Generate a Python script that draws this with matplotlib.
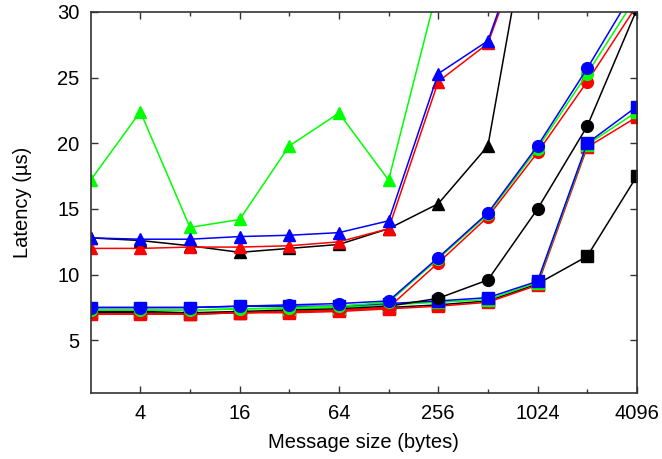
import numpy as np
import matplotlib
matplotlib.use("Agg")
import matplotlib.pyplot as plt
from matplotlib.ticker import FixedLocator, NullFormatter

plt.rcParams['font.family'] = ['Liberation Sans', 'DejaVu Sans']

# message sizes (bytes)
sizes = [2, 4, 8, 16, 32, 64, 128, 256, 512, 1024, 2048, 4096]
nan = np.nan

# squares
sq_black = [7.1, 7.1, 7.0, 7.1, 7.2, 7.3, 7.5, 7.7, 8.0, 9.3, 11.4, 17.5]
sq_red = [7.0, 7.0, 7.0, 7.1, 7.1, 7.2, 7.4, 7.6, 7.9, 9.2, 19.7, 22.0]
sq_green = [7.3, 7.3, 7.3, 7.4, 7.4, 7.5, 7.7, 7.9, 8.1, 9.4, 19.9, 22.4]
sq_blue = [7.5, 7.5, 7.5, 7.6, 7.6, 7.6, 7.8, 8.0, 8.25, 9.5, 20.0, 22.8]

# circles
ci_black = [7.2, 7.2, 7.1, 7.2, 7.3, 7.4, 7.6, 8.2, 9.6, 15.0, 21.3, 30.2]
ci_red = [7.0, 7.0, 7.0, 7.1, 7.2, 7.3, 7.5, 10.9, 14.4, 19.3, 24.7, 30.5]
ci_green = [7.3, 7.3, 7.3, 7.4, 7.5, 7.6, 7.9, 11.2, 14.6, 19.6, 25.3, 31.2]
ci_blue = [7.5, 7.5, 7.5, 7.6, 7.7, 7.8, 8.0, 11.3, 14.7, 19.8, 25.7, 32.0]

# triangles
tr_black = [12.8, 12.6, 12.2, 11.7, 12.0, 12.3, 13.5, 15.4, 19.8, 41.0, nan, nan]
tr_red = [12.0, 12.0, 12.1, 12.1, 12.2, 12.5, 13.5, 24.7, 27.6, 38.0, nan, nan]
tr_green = [17.2, 22.4, 13.6, 14.2, 19.8, 22.3, 17.2, 32.0, nan, nan, nan, nan]
tr_blue = [12.8, 12.7, 12.7, 12.9, 13.0, 13.2, 14.1, 25.3, 27.8, 38.5, nan, nan]

colors = ['black', '#ff0000', '#00ff00', '#0000ff']
groups = [
    ('s', [sq_black, sq_red, sq_green, sq_blue]),
    ('o', [ci_black, ci_red, ci_green, ci_blue]),
    ('^', [tr_black, tr_red, tr_green, tr_blue]),
]

fig = plt.figure(figsize=(6.62, 4.59), dpi=100)
ax = fig.add_axes([0.137, 0.144, 0.825, 0.830])

for marker, series in groups:
    for c, vals in zip(colors, series):
        ax.plot(sizes, vals, color=c, marker=marker, markersize=8.5,
                linewidth=1.1, clip_on=True)

ax.set_xscale('log', base=2)
ax.set_xlim(2, 4096)
ax.set_ylim(1, 30)
ax.xaxis.set_major_locator(FixedLocator([4, 16, 64, 256, 1024, 4096]))
ax.xaxis.set_minor_locator(FixedLocator([8, 32, 128, 512, 2048]))
ax.xaxis.set_minor_formatter(NullFormatter())
ax.set_xticklabels(['4', '16', '64', '256', '1024', '4096'])
ax.set_yticks([5, 10, 15, 20, 25, 30])

ax.tick_params(which='both', direction='in', top=True, right=True,
               labelsize=14.5, width=1.0, color='#333333')
ax.tick_params(which='major', length=5, pad=8)
ax.tick_params(which='minor', length=3)
for s in ax.spines.values():
    s.set_color('#333333')
    s.set_linewidth(1.2)

ax.set_xlabel('Message size (bytes)', fontsize=14.5, labelpad=7)
ax.set_ylabel('Latency (µs)', fontsize=14.5, labelpad=18)

fig.savefig('out.png', dpi=100)
